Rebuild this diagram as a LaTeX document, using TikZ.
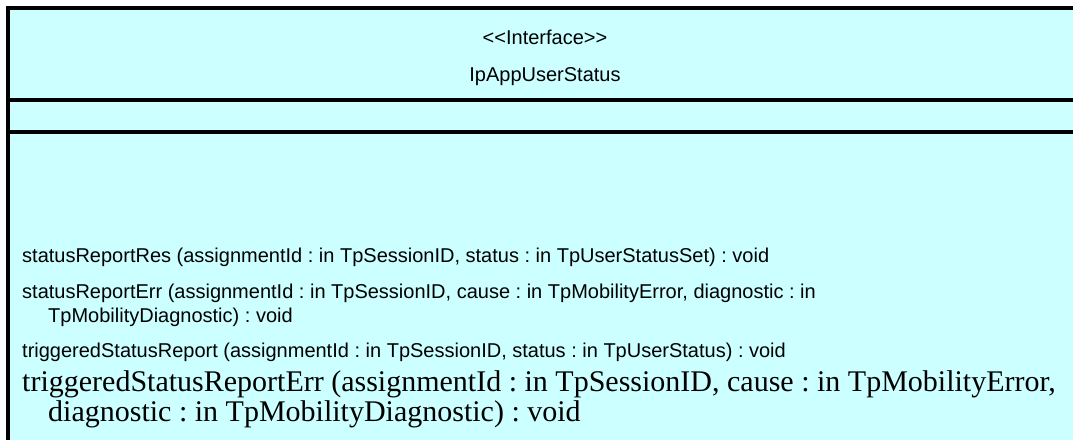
\documentclass[tikz,border=0pt]{standalone}
\usepackage{fontspec}
\setmainfont{Liberation Sans}
\newfontfamily\timesfont{Liberation Serif}
\definecolor{ifacefill}{HTML}{CCFFFF}
\frenchspacing
\begin{document}
\begin{tikzpicture}[x=1bp,y=-1bp,
  rule/.style={line width=4bp},
  header/.style={inner sep=0pt, font=\fontsize{20bp}{24bp}\selectfont},
  op/.style={anchor=base west, inner sep=0pt, align=left,
    font=\fontsize{20bp}{24bp}\selectfont},
  opserif/.style={anchor=base west, inner sep=0pt, align=left,
    font=\timesfont\fontsize{30bp}{30bp}\selectfont}]
\useasboundingbox (0,0) rectangle (1073,440);
% class box: fill, outer border and compartment rules
\fill[ifacefill] (8,8) rectangle (1100,460);
\draw[rule] (8,460) -- (8,8) -- (1100,8);
\draw[rule] (8,100) -- (1100,100);
\draw[rule] (8,132) -- (1100,132);
% name compartment
\node[header] (stereo) at (545,37) {<\kern0pt<Interface>\kern0pt>};
\node[header] (name) at (545,77) {IpAppUserStatus};
% operations (a node's base is the baseline of its last line)
\node[op] (op1) at (22,263) {statusReportRes (assignmentId : in TpSessionID, status : in TpUserStatusSet) : void};
\node[op] (op2) at (22,323) {statusReportErr (assignmentId : in TpSessionID, cause : in TpMobilityError, diagnostic : in\\\hspace*{26bp}TpMobilityDiagnostic) : void};
\node[op] (op3) at (22,358) {triggeredStatusReport (assignmentId : in TpSessionID, status : in TpUserStatus) : void};
\node[opserif] (op4) at (22,422) {triggeredStatusReportErr (assignmentId : in TpSessionID, cause : in TpMobilityError,\\\hspace*{26bp}diagnostic : in TpMobilityDiagnostic) : void};
\end{tikzpicture}
\end{document}
